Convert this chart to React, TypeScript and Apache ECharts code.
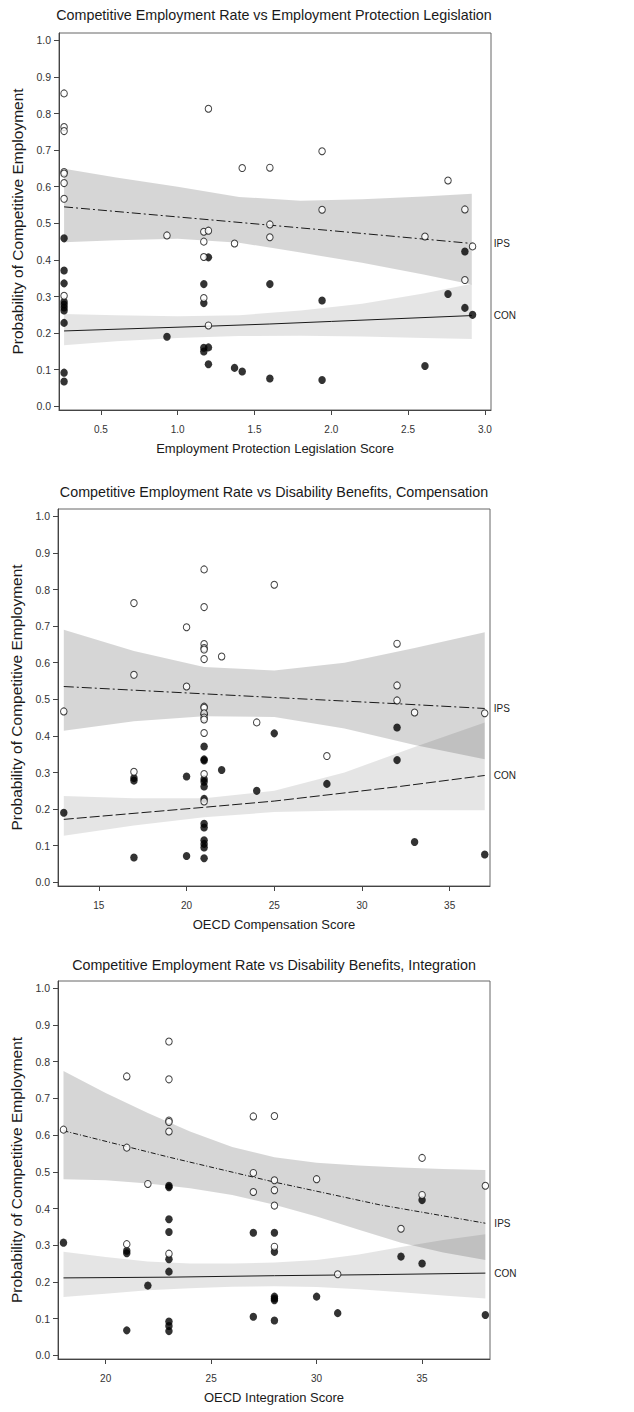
import React, { useEffect, useRef } from 'react';
import * as echarts from 'echarts';

const FONT = '"Liberation Sans", Arial, sans-serif';

const panelTitles = [
  'Competitive Employment Rate vs Employment Protection Legislation',
  'Competitive Employment Rate vs Disability Benefits, Compensation',
  'Competitive Employment Rate vs Disability Benefits, Integration',
];
const xAxisNames = [
  'Employment Protection Legislation Score',
  'OECD Compensation Score',
  'OECD Integration Score',
];
const yAxisName = 'Probability of Competitive Employment';
const groupLabels = ['IPS', 'CON'];

const yTicks = [0, 0.1, 0.2, 0.3, 0.4, 0.5, 0.6, 0.7, 0.8, 0.9, 1.0];
const xTicks1 = [0.5, 1.0, 1.5, 2.0, 2.5, 3.0];
const xTicks2 = [15, 20, 25, 30, 35];
const xTicks3 = [20, 25, 30, 35];

// ---------- Panel 1: Employment Protection Legislation ----------
const p1Ips: number[][] = [
  [0.26, 0.855], [0.26, 0.763], [0.26, 0.752], [0.26, 0.640], [0.26, 0.636], [0.26, 0.610], [0.26, 0.567], [0.26, 0.302],
  [0.93, 0.467],
  [1.17, 0.477], [1.17, 0.450], [1.17, 0.408], [1.17, 0.296],
  [1.20, 0.813], [1.20, 0.480], [1.20, 0.221],
  [1.37, 0.445], [1.42, 0.651],
  [1.60, 0.652], [1.60, 0.497], [1.60, 0.462],
  [1.94, 0.697], [1.94, 0.537],
  [2.61, 0.464], [2.76, 0.617],
  [2.87, 0.538], [2.87, 0.345], [2.92, 0.437],
];
const p1Con: number[][] = [
  [0.26, 0.459], [0.26, 0.371], [0.26, 0.336], [0.26, 0.286], [0.26, 0.278], [0.26, 0.270], [0.26, 0.262], [0.26, 0.228], [0.26, 0.092], [0.26, 0.068],
  [0.93, 0.190],
  [1.17, 0.334], [1.17, 0.282], [1.17, 0.160], [1.17, 0.150],
  [1.20, 0.407], [1.20, 0.161], [1.20, 0.115],
  [1.37, 0.105], [1.42, 0.095],
  [1.60, 0.334], [1.60, 0.076],
  [1.94, 0.289], [1.94, 0.072],
  [2.61, 0.110], [2.76, 0.307],
  [2.87, 0.423], [2.87, 0.269], [2.92, 0.250],
];
const p1FitX = [0.26, 1.2, 1.6, 2.0, 2.915];
const p1IpsFit = [0.545, 0.510, 0.495, 0.480, 0.445];
const p1ConFit = [0.206, 0.219, 0.225, 0.232, 0.248];
const p1BandX = [0.26, 0.6, 1.0, 1.4, 1.8, 2.2, 2.6, 2.915];
const p1IpsHi = [0.649, 0.625, 0.600, 0.572, 0.562, 0.566, 0.573, 0.581];
const p1IpsLo = [0.448, 0.454, 0.458, 0.447, 0.420, 0.392, 0.360, 0.333];
const p1ConHi = [0.252, 0.249, 0.246, 0.249, 0.262, 0.280, 0.308, 0.335];
const p1ConLo = [0.167, 0.178, 0.187, 0.192, 0.193, 0.191, 0.187, 0.184];

// ---------- Panel 2: Compensation ----------
const p2Ips: number[][] = [
  [13, 0.467],
  [17, 0.763], [17, 0.567], [17, 0.302],
  [20, 0.697], [20, 0.535],
  [21, 0.855], [21, 0.752], [21, 0.651], [21, 0.640], [21, 0.636], [21, 0.610], [21, 0.480], [21, 0.477],
  [21, 0.462], [21, 0.450], [21, 0.445], [21, 0.408], [21, 0.296], [21, 0.221],
  [22, 0.617], [24, 0.437], [25, 0.813], [28, 0.345],
  [32, 0.652], [32, 0.538], [32, 0.497], [33, 0.464], [37, 0.462],
];
const p2Con: number[][] = [
  [13, 0.190],
  [17, 0.285], [17, 0.278], [17, 0.068],
  [20, 0.289], [20, 0.072],
  [21, 0.459], [21, 0.371], [21, 0.336], [21, 0.333], [21, 0.282], [21, 0.275], [21, 0.262], [21, 0.228],
  [21, 0.160], [21, 0.150], [21, 0.115], [21, 0.105], [21, 0.095], [21, 0.066],
  [22, 0.307], [24, 0.250], [25, 0.407], [28, 0.269],
  [32, 0.423], [32, 0.334], [33, 0.110], [37, 0.076],
];
const p2FitX = [13, 21, 25, 32, 37];
const p2IpsFit = [0.535, 0.515, 0.505, 0.488, 0.475];
const p2ConFit = [0.172, 0.205, 0.222, 0.261, 0.292];
const p2BandX = [13, 17, 21, 25, 29, 33, 37];
const p2IpsHi = [0.690, 0.632, 0.588, 0.579, 0.600, 0.640, 0.683];
const p2IpsLo = [0.414, 0.440, 0.454, 0.452, 0.420, 0.375, 0.336];
const p2ConHi = [0.236, 0.230, 0.230, 0.250, 0.300, 0.370, 0.437];
const p2ConLo = [0.127, 0.155, 0.178, 0.192, 0.196, 0.197, 0.197];

// ---------- Panel 3: Integration ----------
const p3Ips: number[][] = [
  [18, 0.615],
  [21, 0.760], [21, 0.566], [21, 0.303],
  [22, 0.467],
  [23, 0.855], [23, 0.752], [23, 0.640], [23, 0.636], [23, 0.610], [23, 0.277],
  [27, 0.651], [27, 0.497], [27, 0.445],
  [28, 0.652], [28, 0.477], [28, 0.450], [28, 0.408], [28, 0.296],
  [30, 0.480], [31, 0.221], [34, 0.345],
  [35, 0.538], [35, 0.437], [38, 0.462],
];
const p3Con: number[][] = [
  [18, 0.307],
  [21, 0.285], [21, 0.278], [21, 0.068],
  [22, 0.190],
  [23, 0.462], [23, 0.458], [23, 0.371], [23, 0.336], [23, 0.262], [23, 0.228], [23, 0.092], [23, 0.080], [23, 0.066],
  [27, 0.334], [27, 0.105],
  [28, 0.334], [28, 0.282], [28, 0.160], [28, 0.155], [28, 0.150], [28, 0.095],
  [30, 0.160], [31, 0.115], [34, 0.269],
  [35, 0.423], [35, 0.250], [38, 0.110],
];
const p3FitX = [18, 23, 28, 33, 38];
const p3IpsFit = [0.612, 0.540, 0.472, 0.410, 0.360];
const p3ConFit = [0.211, 0.213, 0.217, 0.220, 0.224];
const p3BandX = [18, 20, 22, 24, 26, 28, 30, 32, 34, 36, 38];
const p3IpsHi = [0.775, 0.715, 0.660, 0.610, 0.568, 0.540, 0.525, 0.517, 0.512, 0.508, 0.505];
const p3IpsLo = [0.480, 0.477, 0.468, 0.455, 0.437, 0.410, 0.378, 0.342, 0.307, 0.280, 0.260];
const p3ConHi = [0.282, 0.268, 0.256, 0.250, 0.250, 0.253, 0.260, 0.275, 0.295, 0.314, 0.330];
const p3ConLo = [0.159, 0.168, 0.177, 0.183, 0.187, 0.188, 0.186, 0.180, 0.172, 0.163, 0.155];

const panels = [
  {
    ips: p1Ips, con: p1Con, fitX: p1FitX, ipsFit: p1IpsFit, conFit: p1ConFit,
    bandX: p1BandX, ipsHi: p1IpsHi, ipsLo: p1IpsLo, conHi: p1ConHi, conLo: p1ConLo,
    xTicks: xTicks1, xMin: 0.227, xMax: 3.04, dec: 1,
    grid: { left: 59, top: 33, width: 432, height: 377 }, titleTop: 8,
    ipsDash: [9, 3, 2, 3], conDash: 'solid', labelDist: 22,
  },
  {
    ips: p2Ips, con: p2Con, fitX: p2FitX, ipsFit: p2IpsFit, conFit: p2ConFit,
    bandX: p2BandX, ipsHi: p2IpsHi, ipsLo: p2IpsLo, conHi: p2ConHi, conLo: p2ConLo,
    xTicks: xTicks2, xMin: 12.67, xMax: 37.3, dec: 0,
    grid: { left: 58, top: 509, width: 432, height: 377 }, titleTop: 485,
    ipsDash: [10, 3, 2, 3], conDash: [10, 3], labelDist: 9,
  },
  {
    ips: p3Ips, con: p3Con, fitX: p3FitX, ipsFit: p3IpsFit, conFit: p3ConFit,
    bandX: p3BandX, ipsHi: p3IpsHi, ipsLo: p3IpsLo, conHi: p3ConHi, conLo: p3ConLo,
    xTicks: xTicks3, xMin: 17.74, xMax: 38.22, dec: 0,
    grid: { left: 58, top: 981, width: 432, height: 378 }, titleTop: 958,
    ipsDash: [5, 2, 1, 2], conDash: 'solid', labelDist: 9,
  },
];

function bandSeries(gi: number, xs: number[], lo: number[], hi: number[], fill: string) {
  return {
    type: 'custom',
    xAxisIndex: gi,
    yAxisIndex: gi,
    z: 1,
    silent: true,
    clip: true,
    data: xs.map((x, i) => [x, lo[i], hi[i]]),
    encode: { x: 0, y: [1, 2] },
    renderItem: (params: any, api: any) => {
      if (params.dataIndex !== 0) return null;
      const upper = xs.map((x, i) => api.coord([x, hi[i]]));
      const lower = xs.map((x, i) => api.coord([x, lo[i]])).reverse();
      return {
        type: 'polygon',
        shape: { points: upper.concat(lower) },
        style: { fill, stroke: 'none' },
      };
    },
  };
}

function fitSeries(gi: number, xs: number[], ys: number[], dash: any, label: string, dist: number) {
  return {
    type: 'line',
    xAxisIndex: gi,
    yAxisIndex: gi,
    z: 2,
    silent: true,
    symbol: 'none',
    showSymbol: false,
    data: xs.map((x, i) => [x, ys[i]]),
    lineStyle: { color: '#1a1a1a', width: 1, type: dash },
    endLabel: {
      show: true,
      formatter: label,
      distance: dist,
      color: '#222',
      fontSize: 10,
      fontFamily: FONT,
    },
  };
}

function scatterSeries(gi: number, data: number[][], open: boolean) {
  return {
    type: 'scatter',
    xAxisIndex: gi,
    yAxisIndex: gi,
    z: open ? 4 : 3,
    silent: true,
    symbol: 'circle',
    symbolSize: open ? [6.5, 7] : [7.5, 8],
    data,
    itemStyle: open
      ? { color: '#ffffff', borderColor: '#111', borderWidth: 1 }
      : { color: '#000000', borderWidth: 0 },
  };
}

export default function App() {
  const ref = useRef<HTMLDivElement>(null);
  useEffect(() => {
    document.body.style.margin = '0';
    if (!ref.current) return;
    const chart = echarts.init(ref.current, null, { renderer: 'svg' });

    const series: any[] = [];
    panels.forEach((p, gi) => {
      series.push(bandSeries(gi, p.bandX, p.ipsLo, p.ipsHi, 'rgba(0,0,0,0.16)'));
      series.push(bandSeries(gi, p.bandX, p.conLo, p.conHi, 'rgba(0,0,0,0.10)'));
      series.push(fitSeries(gi, p.fitX, p.ipsFit, p.ipsDash, groupLabels[0], p.labelDist));
      series.push(fitSeries(gi, p.fitX, p.conFit, p.conDash, groupLabels[1], p.labelDist));
      series.push(scatterSeries(gi, p.con, false));
      series.push(scatterSeries(gi, p.ips, true));
    });

    const option: any = {
      animation: false,
      textStyle: { fontFamily: FONT },
      title: panels.map((p, i) => ({
        text: panelTitles[i],
        left: 274,
        top: p.titleTop,
        textAlign: 'center',
        padding: 0,
        textStyle: { fontSize: 14.3, fontWeight: 'normal', color: '#1a1a1a', fontFamily: FONT },
      })),
      grid: panels.map((p) => ({
        ...p.grid,
        show: true,
        borderColor: '#666',
        borderWidth: 1,
        backgroundColor: 'transparent',
        containLabel: false,
      })),
      xAxis: panels.map((p, i) => ({
        type: 'value',
        gridIndex: i,
        min: p.xMin,
        max: p.xMax,
        name: xAxisNames[i],
        nameLocation: 'middle',
        nameGap: 32,
        nameTextStyle: { fontSize: 13, color: '#1a1a1a', fontFamily: FONT },
        axisLine: { show: true, onZero: false, lineStyle: { color: '#444', width: 1 } },
        axisTick: { show: true, length: 5, customValues: p.xTicks, lineStyle: { color: '#444' } },
        axisLabel: {
          customValues: p.xTicks,
          formatter: (v: number) => v.toFixed(p.dec),
          margin: 14,
          fontSize: 10,
          color: '#333',
          fontFamily: FONT,
        },
        splitLine: { show: false },
      })),
      yAxis: panels.map((p, i) => ({
        type: 'value',
        gridIndex: i,
        min: -0.01,
        max: 1.02,
        name: yAxisName,
        nameLocation: 'middle',
        nameGap: 32,
        nameTextStyle: { fontSize: 15.5, color: '#1a1a1a', fontFamily: FONT },
        axisLine: { show: true, onZero: false, lineStyle: { color: '#444', width: 1 } },
        axisTick: { show: true, length: 5, customValues: yTicks, lineStyle: { color: '#444' } },
        axisLabel: {
          customValues: yTicks,
          formatter: (v: number) => v.toFixed(1),
          margin: 8,
          fontSize: 10.5,
          color: '#333',
          fontFamily: FONT,
        },
        splitLine: { show: false },
      })),
      series,
    };
    chart.setOption(option);
    return () => chart.dispose();
  }, []);

  return (
    <div
      ref={ref}
      style={{ position: 'absolute', left: 0, top: 0, width: 634, height: 1412, background: '#fff' }}
    />
  );
}
